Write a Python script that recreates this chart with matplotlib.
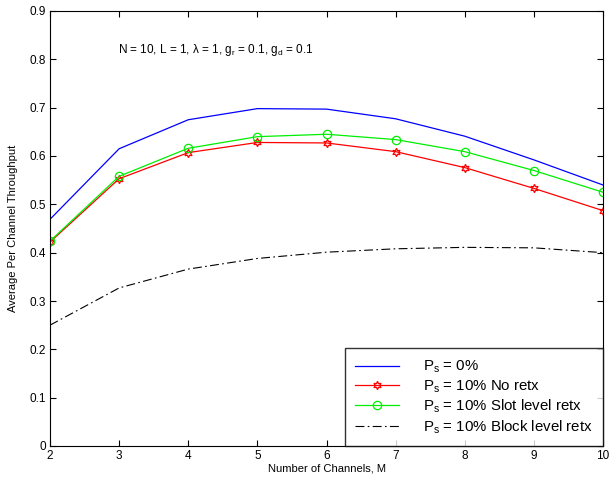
import matplotlib
matplotlib.use("Agg")
import matplotlib.pyplot as plt

plt.rcParams['font.family'] = ['Liberation Sans', 'DejaVu Sans']
plt.rcParams['mathtext.fontset'] = 'custom'
plt.rcParams['mathtext.rm'] = 'Liberation Sans'
plt.rcParams['mathtext.it'] = 'Liberation Sans'

channels = [2, 3, 4, 5, 6, 7, 8, 9, 10]
ps0 = [0.469, 0.615, 0.675, 0.698, 0.697, 0.677, 0.641, 0.592, 0.540]
no_retx = [0.422, 0.553, 0.607, 0.628, 0.627, 0.609, 0.576, 0.533, 0.487]
slot_retx = [0.424, 0.558, 0.616, 0.640, 0.645, 0.634, 0.609, 0.570, 0.525]
block_retx = [0.250, 0.327, 0.366, 0.388, 0.401, 0.408, 0.411, 0.410, 0.400]

labels = [r'P$_\mathrm{s}$ = 0%',
          r'P$_\mathrm{s}$ = 10% No retx',
          r'P$_\mathrm{s}$ = 10% Slot level retx',
          r'P$_\mathrm{s}$ = 10% Block level retx']

fig = plt.figure(figsize=(6.16, 4.82), dpi=100)
ax = fig.add_axes([50 / 616, 36 / 482, 553 / 616, 435 / 482])

ax.plot(channels, ps0, color='blue', lw=0.9, label=labels[0])
ax.plot(channels, no_retx, color='red', lw=0.9, marker=(6, 1, 0),
        ms=6, mfc='none', mew=0.9, label=labels[1])
ax.plot(channels, slot_retx, color='#00ee00', lw=0.9, marker='o',
        ms=6, mfc='none', mew=0.9, label=labels[2])
ax.plot(channels, block_retx, color='black', lw=0.8, ls=(0, (8, 3, 1.5, 3)),
        label=labels[3])

ax.set_xlim(2, 10)
ax.set_ylim(0, 0.9)
ax.set_xticks(channels)
ax.set_yticks([i / 10 for i in range(10)])
ax.set_yticklabels(['0'] + ['%.1f' % (i / 10) for i in range(1, 10)])
ax.tick_params(direction='in', top=True, right=True, labelsize=8.5, length=4,
               pad=3)
for s in ax.spines.values():
    s.set_linewidth(0.8)

ax.set_xlabel('Number of Channels, M', fontsize=8, labelpad=1)
ax.set_ylabel('Average Per Channel Throughput', fontsize=8, labelpad=8)

ax.text(2.98, 0.82, r'N = 10, L = 1, $\lambda$ = 1, g$_\mathrm{r}$ = 0.1, g$_\mathrm{d}$ = 0.1',
        fontsize=8.5, va='center')

leg = ax.legend(loc='lower right', fontsize=10.8, frameon=True, fancybox=False,
                edgecolor='black', borderaxespad=0, handlelength=2.9,
                handletextpad=1.6, labelspacing=0.2, borderpad=0.7)
leg.get_frame().set_linewidth(1.0)

fig.savefig('out.png', dpi=100)
